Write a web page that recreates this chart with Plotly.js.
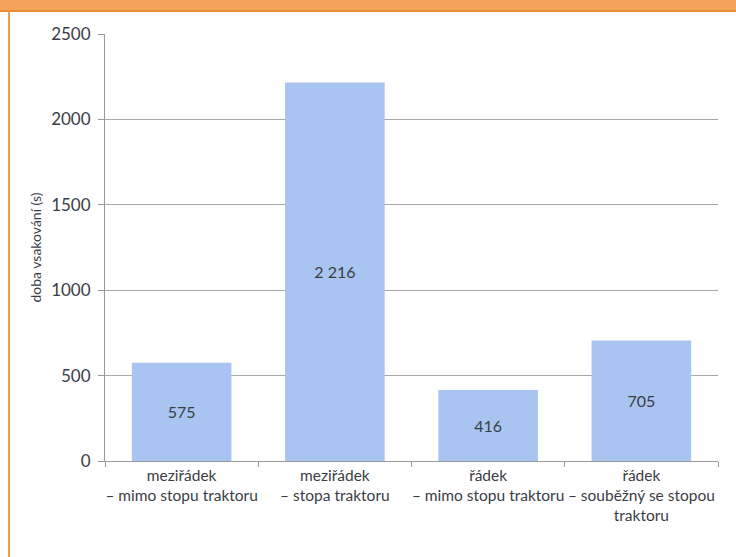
<!DOCTYPE html>
<html>
<head>
<meta charset="utf-8">
<script src="https://cdn.plot.ly/plotly-3.0.1.min.js"></script>
<style>
html,body{margin:0;padding:0;background:#fff;}
#chart{width:736px;height:557px;}
</style>
</head>
<body>
<div id="chart"></div>
<script>
const categories = [
  "meziřádek<br>– mimo stopu traktoru",
  "meziřádek<br>– stopa traktoru",
  "řádek<br>– mimo stopu traktoru",
  "řádek<br>– souběžný se stopou<br>traktoru"
];
const values = [575, 2216, 416, 705];
const valueLabels = ["575", "2 216", "416", "705"];
const yTicks = [0, 500, 1000, 1500, 2000, 2500];
const yTitle = "doba vsakování (s)";

const FONT = "Lato, 'Open Sans', sans-serif";

const W = 736, H = 557;
const m = {l: 105, r: 18, t: 34, b: 96};
const pw = W - m.l - m.r, ph = H - m.t - m.b;
const px = x => (x - m.l) / pw;
const py = y => (H - m.b - y) / ph;

const trace = {
  type: "bar",
  x: categories,
  y: values,
  text: valueLabels,
  texttemplate: "%{text}",
  textposition: "inside",
  insidetextanchor: "middle",
  textangle: 0,
  insidetextfont: {family: FONT, size: 16, color: "#3a3d45"},
  marker: {color: "#a9c4f0", line: {width: 0}},
  width: 0.65,
  hoverinfo: "none"
};

const layout = {
  width: W, height: H,
  margin: m,
  paper_bgcolor: "#ffffff",
  plot_bgcolor: "#ffffff",
  showlegend: false,
  font: {family: FONT, size: 16, color: "#3a3d45"},
  xaxis: {
    type: "category",
    showgrid: false,
    showline: true,
    linecolor: "#9a9a9a",
    linewidth: 1,
    ticks: "outside",
    tickson: "boundaries",
    ticklen: 5,
    tickcolor: "#9a9a9a",
    tickangle: 0,
    tickfont: {family: FONT, size: 15.5, color: "#3a3d45"},
    fixedrange: true
  },
  yaxis: {
    range: [0, 2500],
    tickvals: yTicks,
    ticktext: yTicks.map(String),
    showgrid: true,
    gridcolor: "#a8a8a8",
    gridwidth: 1,
    zeroline: false,
    showline: true,
    linecolor: "#9a9a9a",
    ticks: "outside",
    ticklen: 6,
    tickcolor: "#9a9a9a",
    ticklabelstandoff: 4,
    tickfont: {family: FONT, size: 17, color: "#3a3d45"},
    title: {text: yTitle, font: {family: FONT, size: 14, color: "#3a3d45"}, standoff: 6},
    fixedrange: true
  },
  shapes: [
    {type: "rect", xref: "paper", yref: "paper", x0: px(0), x1: px(W), y0: py(11), y1: py(0),
     fillcolor: "#f2a55a", line: {width: 0}, layer: "above"},
    {type: "line", xref: "paper", yref: "paper", x0: px(0), x1: px(W), y0: py(11), y1: py(11),
     line: {color: "#e98a35", width: 2}, layer: "above"},
    {type: "line", xref: "paper", yref: "paper", x0: px(9), x1: px(9), y0: py(11), y1: py(H),
     line: {color: "#ee9a55", width: 2}, layer: "above"}
  ]
};

Plotly.newPlot("chart", [trace], layout, {displayModeBar: false, staticPlot: true});
</script>
</body>
</html>
